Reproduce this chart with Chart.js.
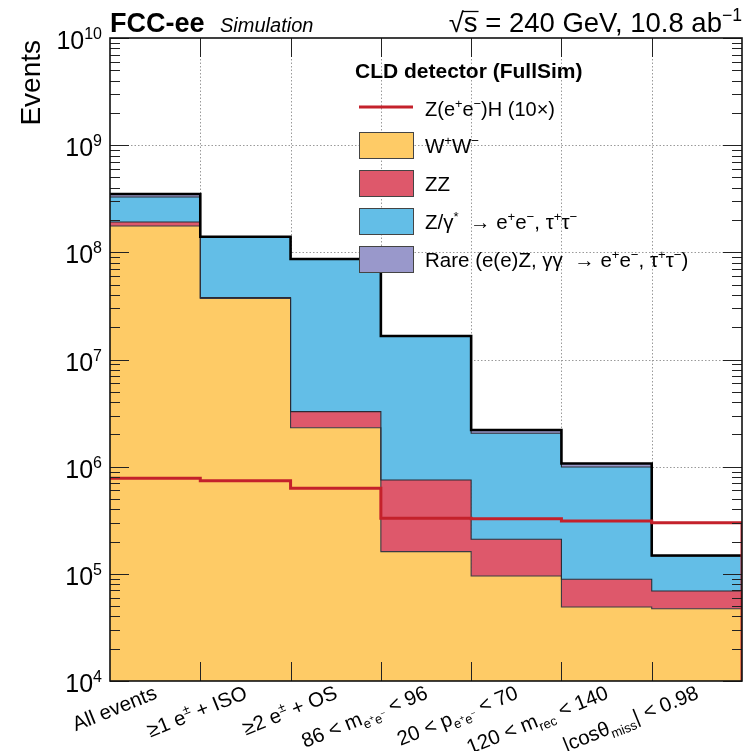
<!DOCTYPE html>
<html>
<head>
<meta charset="utf-8">
<script src="https://cdn.jsdelivr.net/npm/chart.js@4.4.0/dist/chart.umd.min.js"></script>
<style>
  html, body { margin: 0; padding: 0; background: #fff; }
  #wrap { width: 750px; height: 751px; }
</style>
</head>
<body>
<div id="wrap"><canvas id="c" width="750" height="751"></canvas></div>
<script>
// Selection cut flow, events per bin (stacked backgrounds + scaled signal)
const categories = ['All events', '>=1 e + ISO', '>=2 e + OS', '86 < m_ee < 96',
                    '20 < p_ee < 70', '120 < m_rec < 140', '|cos theta_miss| < 0.98'];
const cutLabels = ['All events', '≥1 e^{±} + ISO', '≥2 e^{±} + OS', '86 < m_{e^{+}e^{−}} < 96',
                   '20 < p_{e^{+}e^{−}} < 70', '120 < m_{rec} < 140', '|cosθ_{miss}| < 0.98'];
const ww      = [1.76e8, 3.72e7, 2.31e6, 1.61e5, 9.55e4, 4.90e4, 4.73e4];
const zz      = [1.6e7,  6.0e5,  9.5e5,  5.9e5,  1.15e5, 4.0e4,  2.19e4];
const zgamma  = [1.36e8, 1.0e8,  8.24e7, 1.57e7, 1.84e6, 9.04e5, 7.78e4];
const rare    = [2.2e7,  2.0e6,  1.0e6,  1.0e5,  1.5e5,  7.7e4,  1.5e3];
const signal  = [7.78e5, 7.4e5,  6.28e5, 3.30e5, 3.27e5, 3.11e5, 3.0e5];   // ZH x10
const yDecades = [4, 5, 6, 7, 8, 9, 10];

const YMIN = Math.pow(10, yDecades[0]);
const YMAX = Math.pow(10, yDecades[yDecades.length - 1]);
const FONT = '"Liberation Sans", Arimo, Arial, Helvetica, sans-serif';
const COLORS = { ww: '#fecb66', zz: '#de586b', zg: '#63bee7', rare: '#9998cb', sig: '#c4212b' };

// cumulative stack levels
const stacks = [];
[ww, zz, zgamma, rare].forEach((arr, k) => {
  stacks.push(arr.map((v, i) => v + (k ? stacks[k - 1][i] : 0)));
});

// histogram points: one point per bin low edge, plus the closing upper edge
function histPoints(vals) {
  const pts = vals.map((v, i) => ({ x: i, y: v }));
  pts.push({ x: vals.length, y: vals[vals.length - 1] });
  return pts;
}

// simple rich text: ^{..} superscript, _{..} subscript (nestable)
function parseRich(s, scale = 1, shift = 0, out = []) {
  let i = 0, buf = '';
  const flush = () => { if (buf) { out.push({ t: buf, scale, shift }); buf = ''; } };
  while (i < s.length) {
    const c = s[i];
    if ((c === '^' || c === '_') && s[i + 1] === '{') {
      flush();
      let depth = 0, j = i + 1;
      for (; j < s.length; j++) {
        if (s[j] === '{') depth++;
        else if (s[j] === '}') { depth--; if (depth === 0) break; }
      }
      const inner = s.slice(i + 2, j);
      const nsh = shift + (c === '^' ? -0.40 * scale : 0.24 * scale);
      parseRich(inner, scale * 0.64, nsh, out);
      i = j + 1;
    } else { buf += c; i++; }
  }
  flush();
  return out;
}
function drawRich(ctx, str, x, y, size, o = {}) {
  const weight = o.weight || 'normal', style = o.style || 'normal';
  const runs = parseRich(str);
  let w = 0;
  runs.forEach(r => {
    ctx.font = `${style} ${weight} ${r.scale * size}px ${FONT}`;
    r.w = ctx.measureText(r.t).width; w += r.w;
  });
  let cx = o.align === 'right' ? x - w : o.align === 'center' ? x - w / 2 : x;
  ctx.textAlign = 'left';
  ctx.textBaseline = 'alphabetic';
  ctx.fillStyle = o.color || '#000';
  runs.forEach(r => {
    ctx.font = `${style} ${weight} ${r.scale * size}px ${FONT}`;
    ctx.fillText(r.t, cx, y + r.shift * size);
    cx += r.w;
  });
  return w;
}

const gridPlugin = {
  id: 'rootGrid',
  beforeDraw(chart) {
    const { ctx, chartArea: a, scales: { x, y } } = chart;
    ctx.save();
    ctx.fillStyle = '#fff';
    ctx.fillRect(0, 0, chart.width, chart.height);
    ctx.strokeStyle = '#9a9a9a';
    ctx.lineWidth = 1;
    ctx.setLineDash([1.5, 2]);
    for (let i = 1; i < categories.length; i++) {
      const px = Math.round(x.getPixelForValue(i)) + 0.5;
      ctx.beginPath(); ctx.moveTo(px, a.top); ctx.lineTo(px, a.bottom); ctx.stroke();
    }
    yDecades.slice(1, -1).forEach(d => {
      const py = Math.round(y.getPixelForValue(Math.pow(10, d))) + 0.5;
      ctx.beginPath(); ctx.moveTo(a.left, py); ctx.lineTo(a.right, py); ctx.stroke();
    });
    ctx.restore();
  },
  afterDraw(chart) {
    const { ctx, chartArea: a, scales: { x, y } } = chart;
    ctx.save();
    // tick marks
    ctx.strokeStyle = '#222';
    ctx.lineWidth = 1;
    for (let d = yDecades[0]; d <= yDecades[yDecades.length - 1]; d++) {
      for (let m = 1; m <= 9; m++) {
        const v = m * Math.pow(10, d);
        if (v > YMAX) break;
        const py = Math.round(y.getPixelForValue(v)) + 0.5;
        const len = m === 1 ? 19 : 10;
        ctx.beginPath();
        ctx.moveTo(a.left, py); ctx.lineTo(a.left + len, py);
        ctx.moveTo(a.right, py); ctx.lineTo(a.right - len, py);
        ctx.stroke();
      }
    }
    for (let i = 1; i < categories.length; i++) {
      const px = Math.round(x.getPixelForValue(i)) + 0.5;
      ctx.beginPath();
      ctx.moveTo(px, a.top); ctx.lineTo(px, a.top + 19);
      ctx.moveTo(px, a.bottom); ctx.lineTo(px, a.bottom - 19);
      ctx.stroke();
    }
    // frame
    ctx.strokeStyle = '#111';
    ctx.lineWidth = 1.6;
    ctx.strokeRect(a.left, a.top, a.right - a.left, a.bottom - a.top);
    ctx.restore();

    // y tick labels
    yDecades.forEach(d => {
      const py = y.getPixelForValue(Math.pow(10, d));
      drawRich(ctx, '10^{' + d + '}', a.left - 8, py + 11, 25, { align: 'right' });
    });

    // x tick labels (rotated)
    cutLabels.forEach((lab, i) => {
      const px = x.getPixelForValue(i + 0.5);
      ctx.save();
      ctx.translate(px + 3, a.bottom + 17);
      ctx.rotate(-22 * Math.PI / 180);
      drawRich(ctx, lab, 0, 0, 20.5, { align: 'right' });
      ctx.restore();
    });

    // y axis title
    ctx.save();
    ctx.translate(40, a.top + 2);
    ctx.rotate(-Math.PI / 2);
    ctx.fillStyle = '#000';
    ctx.font = `28px ${FONT}`;
    ctx.textAlign = 'right';
    ctx.textBaseline = 'alphabetic';
    ctx.fillText('Events', 0, 0);
    ctx.restore();

    // header
    drawRich(ctx, 'FCC-ee', a.left, 32, 27, { weight: 'bold' });
    drawRich(ctx, 'Simulation', 220, 32, 20, { style: 'italic' });
    const hw = drawRich(ctx, '√s = 240 GeV, 10.8 ab^{−1}', a.right, 32, 27.5, { align: 'right' });
    // overline of the square root
    ctx.save();
    ctx.font = `27.5px ${FONT}`;
    const rootW = ctx.measureText('√').width, sW = ctx.measureText('s').width;
    const sx = a.right - hw;
    ctx.strokeStyle = '#000'; ctx.lineWidth = 1.3;
    ctx.beginPath(); ctx.moveTo(sx + rootW - 1, 11.5); ctx.lineTo(sx + rootW + sW + 1, 11.5); ctx.stroke();
    ctx.restore();

    // legend
    const lx = 359, lw = 54, tx = 425;
    drawRich(ctx, 'CLD detector (FullSim)', 355, 78, 21, { weight: 'bold' });
    ctx.save();
    ctx.strokeStyle = COLORS.sig; ctx.lineWidth = 3;
    ctx.beginPath(); ctx.moveTo(lx, 107); ctx.lineTo(lx + lw, 107); ctx.stroke();
    ctx.restore();
    drawRich(ctx, 'Z(e^{+}e^{−})H (10×)', tx, 116, 20);
    const boxes = [
      { c: COLORS.ww, t: 'W^{+}W^{−}', y: 132 },
      { c: COLORS.zz, t: 'ZZ', y: 170 },
      { c: COLORS.zg, t: 'Z/γ^{*}  → e^{+}e^{−}, τ^{+}τ^{−}', y: 208 },
      { c: COLORS.rare, t: 'Rare (e(e)Z, γγ  → e^{+}e^{−}, τ^{+}τ^{−})', y: 246 }
    ];
    boxes.forEach(b => {
      ctx.save();
      ctx.fillStyle = b.c;
      ctx.fillRect(lx, b.y, lw, 26);
      ctx.strokeStyle = '#444'; ctx.lineWidth = 1;
      ctx.strokeRect(lx + 0.5, b.y + 0.5, lw, 26);
      ctx.restore();
      drawRich(ctx, b.t, tx, b.y + 21, 20.5);
    });
  }
};

const layerStyle = (color, order, fill, border, bw) => ({
  backgroundColor: color, borderColor: border, borderWidth: bw,
  fill, stepped: true, pointRadius: 0, tension: 0, order
});

const sigPoints = histPoints(signal);
sigPoints.push({ x: signal.length, y: YMIN });

new Chart(document.getElementById('c'), {
  type: 'line',
  data: {
    datasets: [
      { label: 'WW', data: histPoints(stacks[0]), ...layerStyle(COLORS.ww, 6, 'start', '#3a3a44', 1.1) },
      { label: 'ZZ', data: histPoints(stacks[1]), ...layerStyle(COLORS.zz, 5, '-1', '#2a2a34', 1.1) },
      { label: 'Zgamma', data: histPoints(stacks[2]), ...layerStyle(COLORS.zg, 4, '-1', '#2a2a34', 1.1) },
      { label: 'Rare', data: histPoints(stacks[3]), ...layerStyle(COLORS.rare, 3, '-1', '#000', 2.6) },
      { label: 'ZH', data: sigPoints, backgroundColor: COLORS.sig, borderColor: COLORS.sig,
        borderWidth: 3, fill: false, stepped: true, pointRadius: 0, order: 1 }
    ]
  },
  options: {
    responsive: false,
    devicePixelRatio: 1,
    animation: false,
    layout: { padding: { left: 0, top: 38, right: 8, bottom: 0 } },
    plugins: {
      legend: { display: false },
      tooltip: { enabled: false },
      filler: { drawTime: 'beforeDatasetsDraw' }
    },
    scales: {
      x: {
        type: 'linear', min: 0, max: categories.length,
        grid: { display: false }, border: { display: false },
        ticks: { display: false },
        afterFit: s => { s.height = 70; }
      },
      y: {
        type: 'logarithmic', min: YMIN, max: YMAX,
        grid: { display: false }, border: { display: false },
        ticks: { display: false },
        afterFit: s => { s.width = 110; }
      }
    }
  },
  plugins: [gridPlugin]
});
</script>
</body>
</html>
